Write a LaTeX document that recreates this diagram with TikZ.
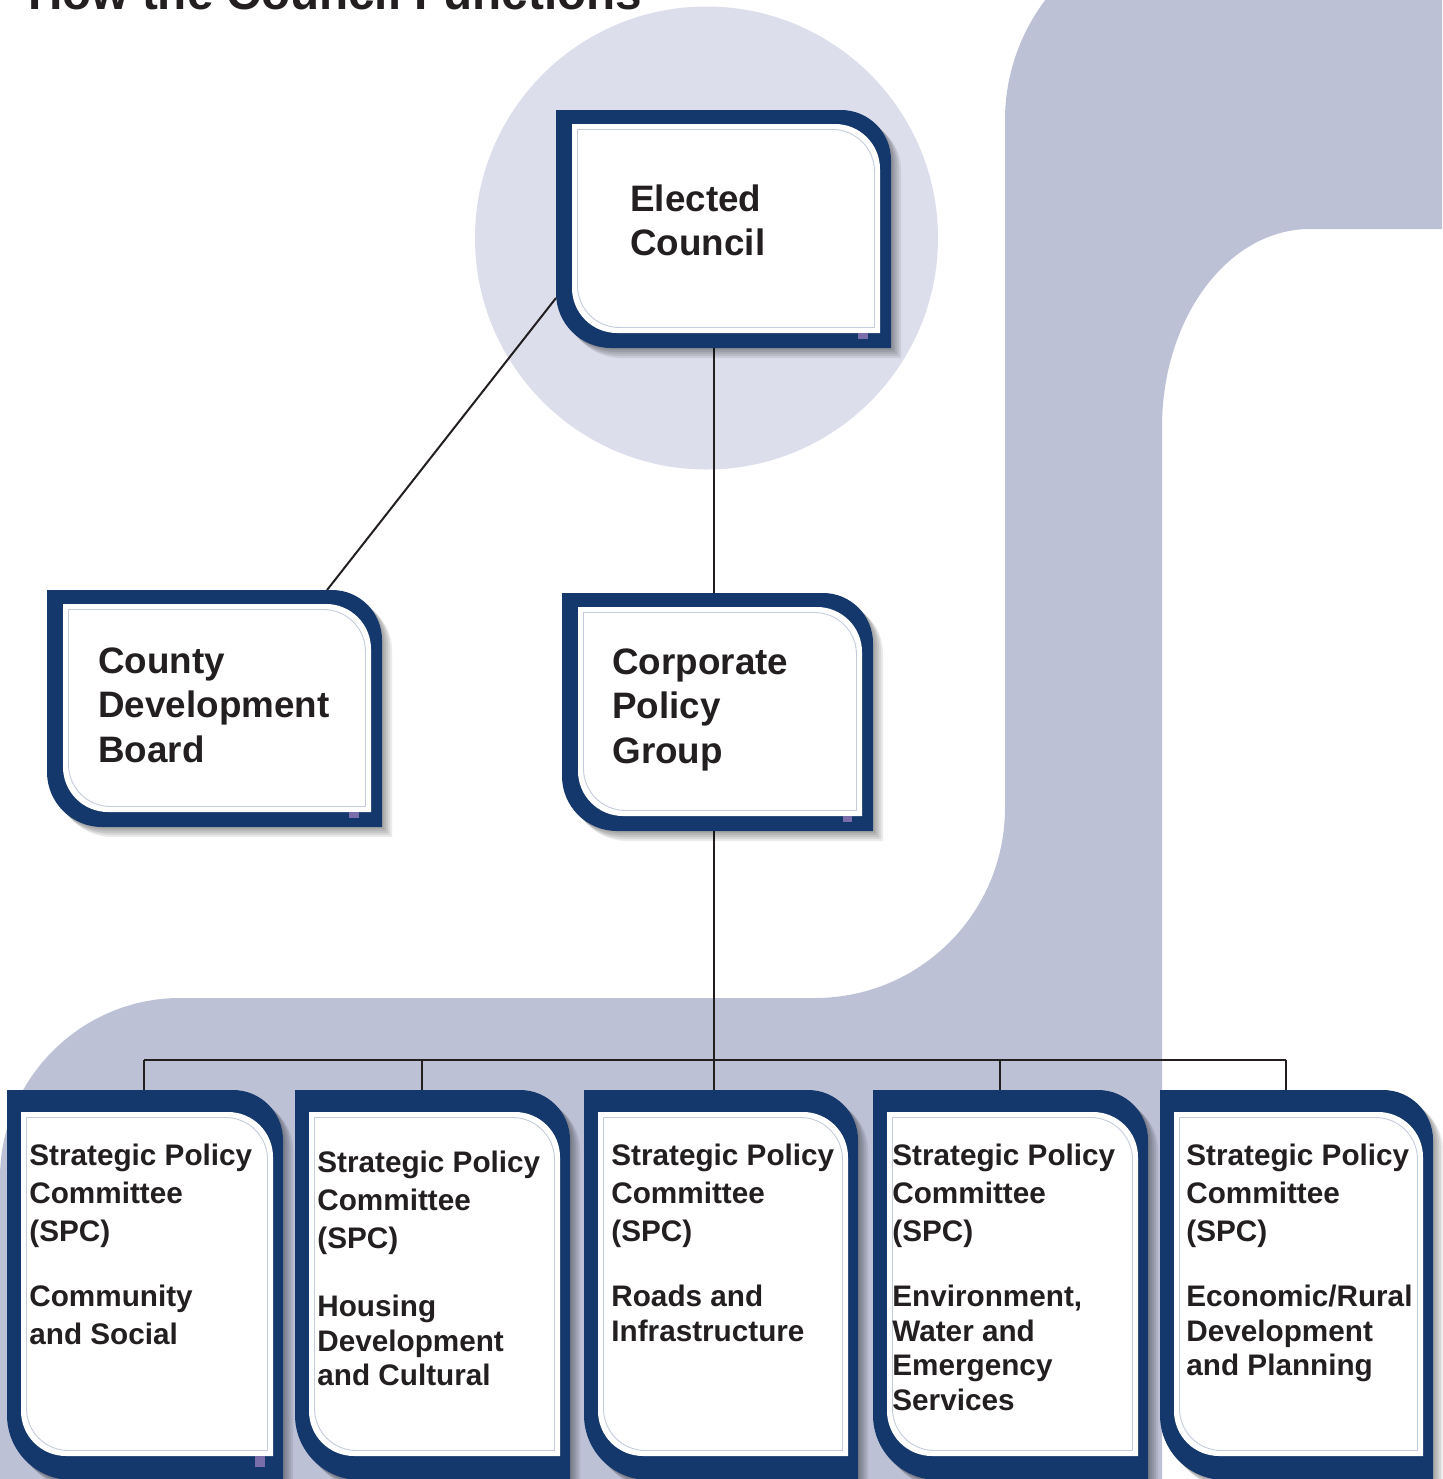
\documentclass[tikz,border=0pt]{standalone}
\usepackage{fontspec}
\setmainfont{Liberation Sans}
\usetikzlibrary{calc}
\definecolor{navy}{HTML}{14386B}
\definecolor{lavender}{HTML}{BCC1D6}
\definecolor{lightlav}{HTML}{DCDEEC}
\definecolor{purplesq}{HTML}{7A6EAA}
\definecolor{thinc}{HTML}{C4CCDC}
\definecolor{textc}{HTML}{231F20}
\newcommand\panelshape[7]{\path[#1] ({#2},{#3}) -- ({(#4)-(#6)},{#3}) .. controls ({(#4)-0.448*(#6)},{#3}) and ({#4},{(#3)+0.448*(#6)}) .. ({#4},{(#3)+(#6)}) -- ({#4},{#5}) -- ({(#2)+(#7)},{#5}) .. controls ({(#2)+0.448*(#7)},{#5}) and ({#2},{(#5)-0.448*(#7)}) .. ({#2},{(#5)-(#7)}) -- cycle;}
\newcommand\drawpanel[7]{%
  \foreach \o in {2,4,6,8,10}{\panelshape{fill=black,opacity=0.08}{(#1)+\o}{(#2)+\o}{(#3)+\o}{(#4)+\o}{#5}{#6}}
  \panelshape{fill=navy}{#1}{#2}{#3}{#4}{#5}{#6}
  \panelshape{fill=white}{(#1)+\insL}{(#2)+\insT}{(#3)-\insR}{(#4)-\insB}{#7}{#7}
  \panelshape{draw=thinc,line width=0.45pt}{(#1)+\insL+5.5}{(#2)+\insT+5.5}{(#3)-\insR-5.5}{(#4)-\insB-5.5}{(#7)-3}{(#7)-3}
}
\newcommand\boxnode[5]{\node[panel, minimum width={((#4)-(#2))*0.5pt}, minimum height={((#5)-(#3))*0.5pt}] (#1) at (#2,#3) {};}
\begin{document}
\begin{tikzpicture}[x=0.5pt,y=-0.5pt,
  panel/.style={inner sep=0pt, outer sep=0pt, anchor=north west, draw=none},
  conn/.style={draw=textc, line width=1pt},
  bigtxt/.style={inner sep=0pt, anchor=north west, align=left, text=textc, font=\bfseries\fontsize{18.4}{22.3}\selectfont},
  headtxt/.style={inner sep=0pt, anchor=north west, align=left, text=textc, font=\bfseries\fontsize{14.85}{19}\selectfont},
  topictxt/.style={inner sep=0pt, anchor=north west, align=left, text=textc, font=\bfseries\fontsize{14.85}{17.25}\selectfont},
  sq/.style={fill=purplesq}]
\useasboundingbox (0,0) rectangle (1442,1479);
% background
\fill[white] (0,0) rectangle (1442,1479);
\fill[lightlav] (706.5,238) circle[radius=115.75pt];
\fill[lavender] (0,1479) -- (0,1178) .. controls (0,1079) and (81,998) .. (180,998) -- (815,998) .. controls (920,998) and (1005,913) .. (1005,808) -- (1005,120) .. controls (1005,10) and (1095,-80) .. (1205,-80) -- (1442,-80) -- (1442,229) -- (1310,229) .. controls (1228,229) and (1162,318) .. (1162,427) -- (1162,1479) -- cycle;
% title (cut off by the top edge, as in the reference)
\node[anchor=base west, inner sep=0pt, text=textc, font=\bfseries\fontsize{23.8}{28}\selectfont] (title) at (28,9) {How the Council Functions};
% box nodes
\boxnode{ec}{556}{110}{891}{348}
\boxnode{cdb}{47}{590}{382}{827}
\boxnode{cpg}{562}{593}{873}{831}
\boxnode{s1}{7}{1090}{283}{1480}
\boxnode{s2}{295}{1090}{570}{1480}
\boxnode{s3}{584}{1090}{858}{1480}
\boxnode{s4}{873}{1090}{1148}{1480}
\boxnode{s5}{1160}{1090}{1433}{1480}
% connectors
\coordinate (d1) at (144,1060);
\coordinate (d2) at (422,1060);
\coordinate (d3) at (714,1060);
\coordinate (d4) at (1000,1060);
\coordinate (d5) at (1286,1060);
\draw[conn] (ec.south -| d3) -- (cpg.north -| d3);
\draw[conn] (cpg.south -| d3) -- (s3.north -| d3);
\draw[conn] ($(ec.south west)+(0,-50)$) -- ($(cdb.north west)!0.836!(cdb.north east)$);
\draw[conn] (d1) -- (d5);
\draw[conn] (d1) -- (s1.north -| d1);
\draw[conn] (d2) -- (s2.north -| d2);
\draw[conn] (d4) -- (s4.north -| d4);
\draw[conn] (d5) -- (s5.north -| d5);
% upper panels
\def\insL{16}\def\insT{14}\def\insR{11}\def\insB{15}
\drawpanel{556}{110}{891}{348}{50}{55}{45}
\drawpanel{47}{590}{382}{827}{50}{55}{45}
\drawpanel{562}{593}{873}{831}{50}{55}{45}
\fill[sq] (858,333) rectangle (868,339);
\fill[sq] (349,812) rectangle (359,818);
\fill[sq] (843,816) rectangle (852,822);
% lower panels
\def\insL{14}\def\insT{22}\def\insR{10}\def\insB{24}
\drawpanel{7}{1090}{283}{1480}{50}{65}{45}
\drawpanel{295}{1090}{570}{1480}{50}{65}{45}
\drawpanel{584}{1090}{858}{1480}{50}{65}{45}
\drawpanel{873}{1090}{1148}{1480}{50}{65}{45}
\drawpanel{1160}{1090}{1433}{1480}{50}{65}{45}
\fill[sq] (255,1456) rectangle (265,1467);
% texts
\node[bigtxt] (tec) at (630,184) {Elected\\Council};
\node[bigtxt] (tcdb) at (98,647) {County\\Development\\Board};
\node[bigtxt] (tcpg) at (612,648) {Corporate\\Policy\\Group};
\node[headtxt] (h1) at (29,1144) {Strategic Policy\\Committee\\(SPC)};
\node[headtxt] (h2) at (317,1151) {Strategic Policy\\Committee\\(SPC)};
\node[headtxt] (h3) at (611,1144) {Strategic Policy\\Committee\\(SPC)};
\node[headtxt] (h4) at (892,1144) {Strategic Policy\\Committee\\(SPC)};
\node[headtxt] (h5) at (1186,1144) {Strategic Policy\\Committee\\(SPC)};
\node[headtxt] (p1) at (29,1285) {Community\\and Social};
\node[topictxt] (p2) at (317,1295) {Housing\\Development\\and Cultural};
\node[topictxt] (p3) at (611,1285) {Roads and\\Infrastructure};
\node[topictxt] (p4) at (892,1285) {Environment,\\Water and\\Emergency\\Services};
\node[topictxt] (p5) at (1186,1285) {Economic/Rural\\Development\\and Planning};
\end{tikzpicture}
\end{document}
